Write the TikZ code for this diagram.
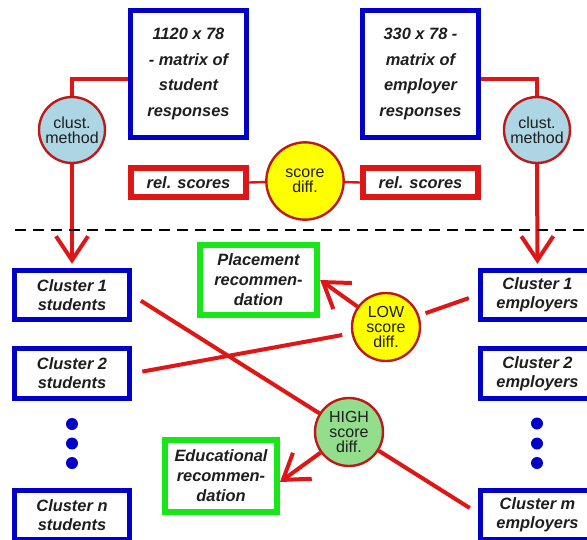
\documentclass[tikz,border=0pt]{standalone}
\usepackage{fontspec}
\setmainfont{Liberation Sans}
\usetikzlibrary{arrows.meta}
\definecolor{boxblue}{RGB}{0,0,200}
\definecolor{linered}{RGB}{222,22,22}
\definecolor{circred}{RGB}{190,25,25}
\definecolor{boxgreen}{RGB}{25,230,25}
\definecolor{clustblue}{RGB}{173,214,228}
\definecolor{lowyellow}{RGB}{255,255,0}
\definecolor{highgreen}{RGB}{146,222,140}
\definecolor{txt}{RGB}{30,30,30}
\begin{document}
\begin{tikzpicture}[x=0.75pt,y=-0.75pt,
  boxbase/.style={rectangle, fill=white, align=center, inner sep=0pt, text=txt,
    font=\fontsize{12.3}{14.3}\selectfont\bfseries\itshape},
  bluebox/.style={boxbase, draw=boxblue, line width=3.75pt, minimum width=86pt, minimum height=37pt},
  topbox/.style={boxbase, draw=boxblue, line width=3.75pt, minimum width=87pt, minimum height=95pt,
    font=\fontsize{12.3}{19.3}\selectfont\bfseries\itshape},
  redbox/.style={boxbase, draw=linered, line width=4.5pt, minimum width=86pt, minimum height=22pt},
  greenbox/.style={boxbase, draw=boxgreen, line width=4.5pt, minimum width=88pt, minimum height=53pt,
    font=\fontsize{12.3}{15}\selectfont\bfseries\itshape},
  circ/.style={circle, draw=circred, line width=1.8pt, inner sep=0pt, align=center, text=txt,
    font=\fontsize{12}{11.5}\selectfont},
  conn/.style={draw=linered, line width=3pt},
  thinconn/.style={draw=linered, line width=1.8pt},
  arr/.style={-{Straight Barb[length=18pt,width=24pt]}},
  bluedot/.style={circle, fill=boxblue, inner sep=0pt, minimum size=9pt},
  dashline/.style={draw=black, line width=2.2pt, dash pattern=on 8.5pt off 5pt}
]
\useasboundingbox (0,0) rectangle (587,540);
\clip (0,0) rectangle (587,540);
\fill[white] (0,0) rectangle (587,540);

% top boxes
\node[topbox] (tl) at (188.5,74) {1120 x 78\\- matrix of\\student\\responses};
\node[topbox] (tr) at (420.5,74) {330 x 78 -\\matrix of\\employer\\responses};

% clustering circles
\node[circ, fill=clustblue, minimum size=49.5pt] (cl) at (72,130) {clust.\\method};
\node[circ, fill=clustblue, minimum size=49.5pt] (cr) at (537,130) {clust.\\method};

% rel scores and score diff
\node[redbox] (rsl) at (188.5,182.5) {rel. scores};
\node[redbox] (rsr) at (420.5,182.5) {rel. scores};
\node[circ, fill=lowyellow, minimum size=58pt] (sd) at (305,181) {score\\diff.};

% student clusters
\node[bluebox] (c1s) at (72,295) {Cluster 1\\students};
\node[bluebox] (c2s) at (72,373.5) {Cluster 2\\students};
\node[bluedot] (ds1) at (72,424) {};
\node[bluedot] (ds2) at (72,443.5) {};
\node[bluedot] (ds3) at (72,463) {};
\node[bluebox] (cns) at (72,515) {Cluster \textit{n}\\students};

% employer clusters
\node[bluebox] (c1e) at (537.5,295) {Cluster 1\\employers};
\node[bluebox] (c2e) at (537.5,373.5) {Cluster 2\\employers};
\node[bluedot] (de1) at (537,423.5) {};
\node[bluedot] (de2) at (537,443.5) {};
\node[bluedot] (de3) at (537,463) {};
\node[bluebox] (cme) at (537.5,515) {Cluster \textit{m}\\employers};

% recommendations
\node[greenbox] (place) at (258.5,280) {Placement\\recommen-\\dation};
\node[greenbox, minimum width=84pt, minimum height=54pt] (edu) at (221,476) {Educational\\recommen-\\dation};

% decision circles
\node[circ, fill=lowyellow, minimum size=51pt] (low) at (386,327) {LOW\\score\\diff.};
\node[circ, fill=highgreen, minimum size=51pt] (high) at (349,432) {HIGH\\score\\diff.};

% connectors top
\draw[conn] ([yshift=-3.75pt]tl.west) -| (cl.north);
\draw[conn] ([yshift=-3.75pt]tr.east) -| (cr.north);
\draw[conn, arr, shorten >=3pt] (cl.south) -- (c1s.north);
\draw[conn, arr, shorten >=3pt] (cr.south) -- (c1e.north);
\draw[thinconn] (rsl.east) -- (sd);
\draw[thinconn] (sd) -- (rsr.west);

% connectors bottom
\draw[conn, shorten <=8pt] (c1s.east) -- (high);
\draw[conn, shorten <=8pt, shorten >=7pt] (c2s.east) -- (low);
\draw[conn, shorten <=7pt, shorten >=5pt] (c1e.west) -- (low);
\draw[conn, shorten <=7pt] ([yshift=1.5pt]cme.west) -- (high);
\draw[conn, arr] (low) -- (place.east);
\draw[conn, arr] (high) -- ([yshift=-4.5pt]edu.east);

% dashed separator
\coordinate (dashL) at (15,230);
\coordinate (dashR) at (590,230);
\draw[dashline] (dashL) -- (dashR);
\end{tikzpicture}
\end{document}
